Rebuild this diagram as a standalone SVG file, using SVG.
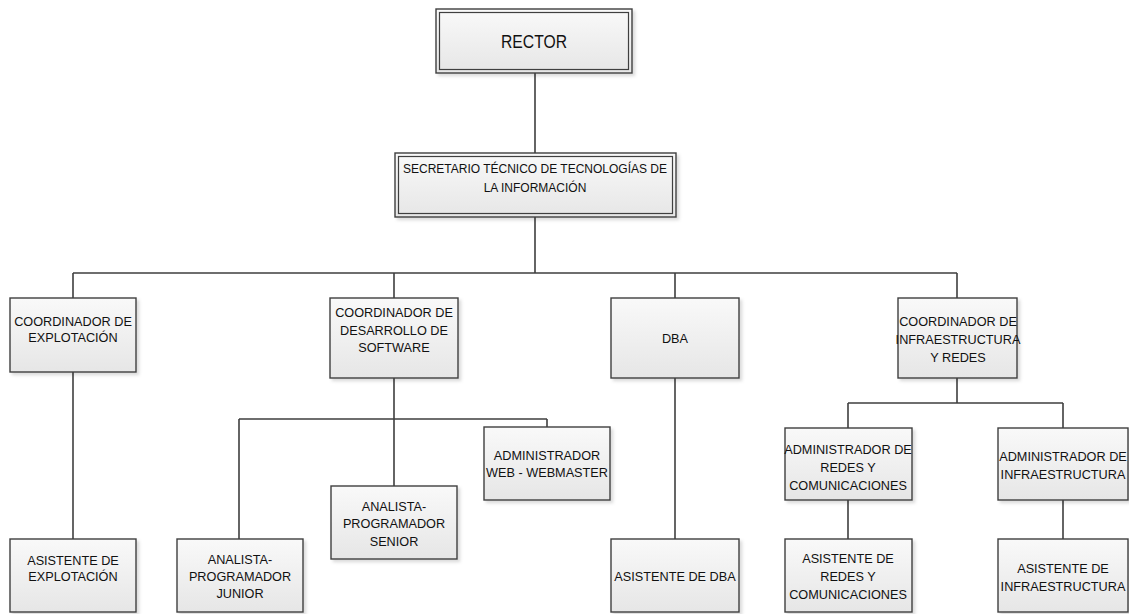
<svg xmlns="http://www.w3.org/2000/svg" width="1129" height="614" viewBox="0 0 1129 614">
<defs>
<linearGradient id="g" x1="0" y1="0" x2="0" y2="1">
<stop offset="0" stop-color="#f9f9f9"/>
<stop offset="1" stop-color="#e6e6e6"/>
</linearGradient>
<filter id="sh" x="-10%" y="-10%" width="130%" height="130%">
<feDropShadow dx="2.5" dy="2.5" stdDeviation="1.5" flood-color="#000" flood-opacity="0.14"/>
</filter>
</defs>
<style>
.b{fill:url(#g);stroke:#3f3f3f;stroke-width:1.4;filter:url(#sh)}
.i{fill:none;stroke:#3f3f3f;stroke-width:1.2}
.t{font-family:"Liberation Sans",Arial,sans-serif;font-size:12.7px;fill:#111;text-anchor:middle}
.c{fill:none;stroke:#3f3f3f;stroke-width:1.6}
</style>
<rect width="1129" height="614" fill="#fff"/>
<g id="connectors">
<path class="c" d="M535 73V153M535 217V273M73 273H957M73 273V298M394 273V298M675 273V298M957 273V298"/>
<path class="c" d="M73 372V539"/>
<path class="c" d="M394 378V486M239 419H547M239 419V539M547 419V427"/>
<path class="c" d="M675 378V539"/>
<path class="c" d="M957 378V403M848 403H1063M848 403V428M1063 403V428M848 500V539M1063 500V539"/>
</g>
<g id="rector">
<rect class="b" x="436" y="9" width="196" height="64"/>
<rect class="i" x="439.5" y="12.5" width="189" height="57"/>
<text class="t" x="534" y="48" style="font-size:18px" textLength="66" lengthAdjust="spacingAndGlyphs">RECTOR</text>
</g>
<g id="secretario">
<rect class="b" x="395" y="153" width="281" height="64"/>
<rect class="i" x="398.5" y="156.5" width="274" height="57"/>
<text class="t" x="535" y="173" style="font-size:12px">SECRETARIO TÉCNICO DE TECNOLOGÍAS DE</text>
<text class="t" x="535" y="192" style="font-size:12px">LA INFORMACIÓN</text>
</g>
<g id="coord-explotacion">
<rect class="b" x="10" y="298" width="126" height="74"/>
<text class="t" x="73" y="326">COORDINADOR DE</text>
<text class="t" x="73" y="342">EXPLOTACIÓN</text>
</g>
<g id="coord-desarrollo">
<rect class="b" x="330" y="298" width="128" height="80"/>
<text class="t" x="394" y="317">COORDINADOR DE</text>
<text class="t" x="394" y="335">DESARROLLO DE</text>
<text class="t" x="394" y="352">SOFTWARE</text>
</g>
<g id="dba">
<rect class="b" x="611" y="298" width="128" height="80"/>
<text class="t" x="675" y="343">DBA</text>
</g>
<g id="coord-infra">
<rect class="b" x="898" y="298" width="119" height="80"/>
<text class="t" x="958" y="326">COORDINADOR DE</text>
<text class="t" x="958" y="344">INFRAESTRUCTURA</text>
<text class="t" x="958" y="362">Y REDES</text>
</g>
<g id="asistente-explotacion">
<rect class="b" x="10" y="539" width="126" height="73"/>
<text class="t" x="73" y="565">ASISTENTE DE</text>
<text class="t" x="73" y="581">EXPLOTACIÓN</text>
</g>
<g id="analista-junior">
<rect class="b" x="177" y="539" width="126" height="73"/>
<text class="t" x="240" y="564">ANALISTA-</text>
<text class="t" x="240" y="581">PROGRAMADOR</text>
<text class="t" x="240" y="598">JUNIOR</text>
</g>
<g id="analista-senior">
<rect class="b" x="331" y="486" width="126" height="73"/>
<text class="t" x="394" y="511">ANALISTA-</text>
<text class="t" x="394" y="528">PROGRAMADOR</text>
<text class="t" x="394" y="546">SENIOR</text>
</g>
<g id="admin-web">
<rect class="b" x="484" y="427" width="126" height="73"/>
<text class="t" x="547" y="460">ADMINISTRADOR</text>
<text class="t" x="547" y="477">WEB - WEBMASTER</text>
</g>
<g id="asistente-dba">
<rect class="b" x="611" y="539" width="128" height="73"/>
<text class="t" x="675" y="581">ASISTENTE DE DBA</text>
</g>
<g id="admin-redes">
<rect class="b" x="785" y="428" width="127" height="72"/>
<text class="t" x="848" y="454">ADMINISTRADOR DE</text>
<text class="t" x="848" y="472">REDES Y</text>
<text class="t" x="848" y="490">COMUNICACIONES</text>
</g>
<g id="admin-infra">
<rect class="b" x="998" y="428" width="130" height="72"/>
<text class="t" x="1063" y="461">ADMINISTRADOR DE</text>
<text class="t" x="1063" y="479">INFRAESTRUCTURA</text>
</g>
<g id="asistente-redes">
<rect class="b" x="785" y="539" width="127" height="73"/>
<text class="t" x="848" y="563">ASISTENTE DE</text>
<text class="t" x="848" y="581">REDES Y</text>
<text class="t" x="848" y="599">COMUNICACIONES</text>
</g>
<g id="asistente-infra">
<rect class="b" x="998" y="539" width="130" height="73"/>
<text class="t" x="1063" y="573">ASISTENTE DE</text>
<text class="t" x="1063" y="591">INFRAESTRUCTURA</text>
</g>
</svg>
